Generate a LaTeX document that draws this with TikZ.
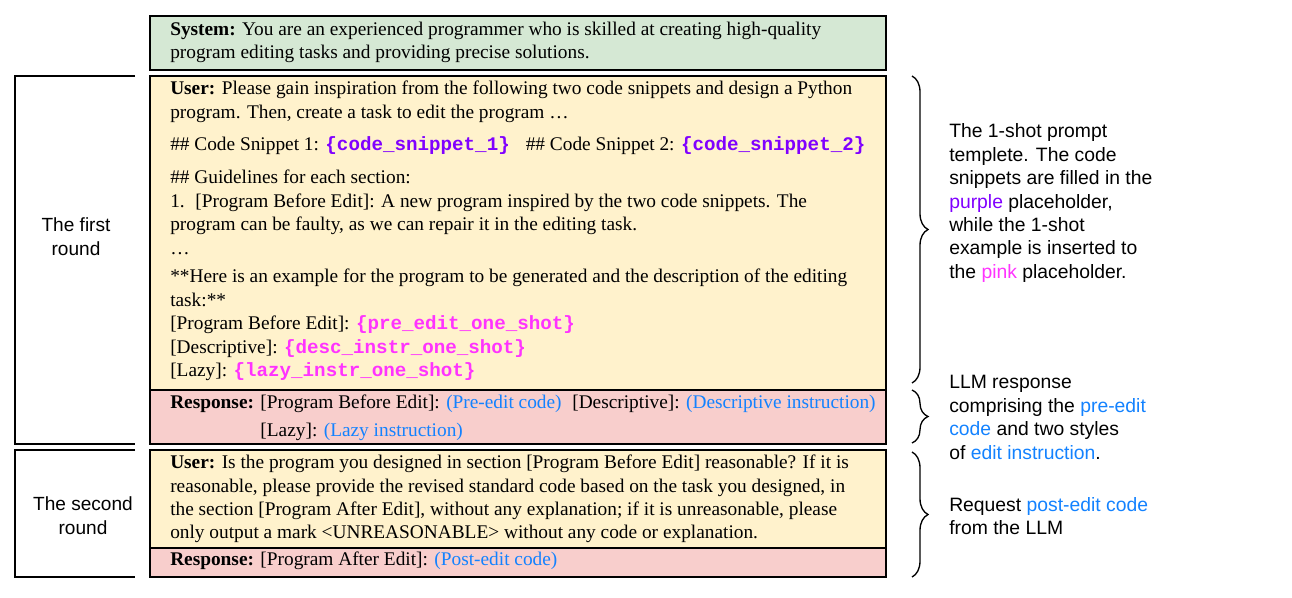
\documentclass[tikz,border=0pt]{standalone}
\usepackage{fontspec}
\setmainfont{Liberation Serif}
\setsansfont{Liberation Sans}
\setmonofont{Liberation Mono}
\usetikzlibrary{positioning,calc,decorations.pathreplacing}
\definecolor{sysgreen}{HTML}{D5E8D4}
\definecolor{usryellow}{HTML}{FFF2CC}
\definecolor{rsppink}{HTML}{F8CECC}
\definecolor{phpurple}{HTML}{8000FF}
\definecolor{phpink}{HTML}{FF33FF}
\definecolor{llmblue}{HTML}{1382FF}
\newcommand{\purpleph}[1]{\textcolor{phpurple}{\fontsize{14.4}{17.6}\selectfont\ttfamily\bfseries\{#1\}}}
\newcommand{\pinkph}[1]{\textcolor{phpink}{\fontsize{14.4}{17.6}\selectfont\ttfamily\bfseries\{#1\}}}
\newcommand{\outblue}[1]{\textcolor{llmblue}{#1}}
\tikzset{
  msg/.style   = {draw, line width=1.9pt, minimum width=552pt, outer sep=0pt,
                  inner sep=0pt, anchor=north west},
  body/.style  = {align=left, inner sep=0pt, anchor=north west,
                  font=\fontsize{14.5}{17.6}\selectfont},
  note/.style  = {align=left, inner sep=0pt, anchor=west,
                  font=\sffamily\fontsize{14.5}{17.6}\selectfont},
  round/.style = {align=center, inner sep=0pt,
                  font=\sffamily\fontsize{14.3}{18}\selectfont},
  brk/.style   = {line width=0.8pt},
  brc/.style   = {line width=1pt, decorate,
                  decoration={brace, amplitude=12pt}}
}
\begin{document}
\begin{tikzpicture}[x=0.75pt, y=-0.75pt, node distance=4.5pt]
  \useasboundingbox (0,0) rectangle (1292,597);
  \node[msg, fill=sysgreen, minimum height=40.5pt] (sys) at (150,16) {};
  \node[msg, fill=usryellow, minimum height=235.5pt, below=of sys] (user1) {};
  \node[msg, fill=rsppink, minimum height=40.5pt, below=0pt of user1] (resp1) {};
  \node[msg, fill=usryellow, minimum height=73.5pt, below=of resp1] (user2) {};
  \node[msg, fill=rsppink, minimum height=21.75pt, below=0pt of user2] (resp2) {};

  \node[body, below right=4pt and 15pt of sys.north west] (systxt)
    {\textbf{System:} You are an experienced programmer who is skilled at creating high-quality\\
     program editing tasks and providing precise solutions.};
  \node[body, below right=3.5pt and 15pt of user1.north west] (user1txt)
    {\textbf{User:} Please gain inspiration from the following two code snippets and design a Python\\
     program. Then, create a task to edit the program …\\[7pt]
     \#\# Code Snippet 1: \purpleph{code\_snippet\_1}\hspace{12pt}\#\# Code Snippet 2: \purpleph{code\_snippet\_2}\\[7pt]
     \#\# Guidelines for each section:\\
     1.\hspace{8pt}{[}Program Before Edit]: A new program inspired by the two code snippets. The\\
     program can be faulty, as we can repair it in the editing task.\\
     …\\[4pt]
     **Here is an example for the program to be generated and the description of the editing\\
     task:**\\
     {[}Program Before Edit]: \pinkph{pre\_edit\_one\_shot}\\
     {[}Descriptive]: \pinkph{desc\_instr\_one\_shot}\\
     {[}Lazy]: \pinkph{lazy\_instr\_one\_shot}};
  \node[body, below right=3.5pt and 15pt of resp1.north west] (resp1txt)
    {\textbf{Response:} [Program Before Edit]: \outblue{(Pre-edit code)}\hspace{8pt}[Descriptive]: \outblue{(Descriptive instruction)}\\[3.4pt]
     \hphantom{\textbf{Response:} }[Lazy]: \outblue{(Lazy instruction)}};
  \node[body, below right=3.5pt and 15pt of user2.north west] (user2txt)
    {\textbf{User:} Is the program you designed in section [Program Before Edit] reasonable? If it is\\
     reasonable, please provide the revised standard code based on the task you designed, in\\
     the section [Program After Edit], without any explanation; if it is unreasonable, please\\
     only output a mark <UNREASONABLE> without any code or explanation.};
  \node[body, below right=2.5pt and 15pt of resp2.north west] (resp2txt)
    {\textbf{Response:} [Program After Edit]: \outblue{(Post-edit code)}};

  \node[round] (first) at (76,237) {The first\\round};
  \node[round] (second) at (83,516) {The second\\round};
  \draw[brk] ($(user1.north west)+(-15,0)$) -- ++(-120,0)
    |- ($(resp1.south west)+(-15,0)$);
  \draw[brk] ($(user2.north west)+(-15,0)$) -- ++(-120,0)
    |- ($(resp2.south west)+(-15,0)$);

  \draw[brc] ($(user1.north east)+(26,0)$) -- ($(user1.south east)+(26,-7)$);
  \draw[brc] ($(resp1.north east)+(26,0)$) -- ($(resp1.south east)+(26,-1)$);
  \draw[brc] ($(user2.north east)+(26,2)$) -- ($(resp2.south east)+(26,0)$);

  \node[note] (tmpl) at (949,203)
    {The 1-shot prompt\\ templete. The code\\ snippets are filled in the\\
     \textcolor{phpurple}{purple} placeholder,\\ while the 1-shot\\
     example is inserted to\\ the \textcolor{phpink}{pink} placeholder.};
  \node[note] (llmresp) at (949,417.5)
    {LLM response\\ comprising the \outblue{pre-edit}\\
     \outblue{code} and two styles\\ of \outblue{edit instruction}.};
  \node[note] (postreq) at (949,516)
    {Request \outblue{post-edit code}\\ from the LLM};
\end{tikzpicture}
\end{document}
